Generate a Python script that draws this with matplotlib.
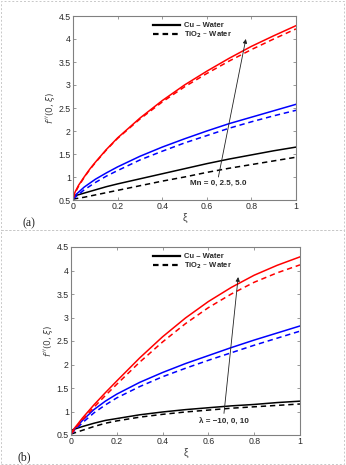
import matplotlib
matplotlib.use("Agg")
import matplotlib.pyplot as plt
from matplotlib.lines import Line2D
from matplotlib.patches import Rectangle

plt.rcParams['font.family'] = ['Liberation Sans', 'DejaVu Sans']
plt.rcParams['mathtext.fontset'] = 'dejavusans'

# ---------------- data ----------------
xi = [0, 0.05, 0.1, 0.15, 0.2, 0.3, 0.4, 0.5, 0.6, 0.7, 0.8, 0.9, 1.0]
xi_fine = [0, 0.01, 0.025, 0.05, 0.075, 0.1, 0.15, 0.2, 0.3, 0.4, 0.5, 0.6, 0.7, 0.8, 0.9, 1.0]

# panel (a): Mn = 0, 2.5, 5.0
a_black_cu  = [0.58, 0.65, 0.72, 0.79, 0.85, 0.96, 1.07, 1.18, 1.29, 1.39, 1.48, 1.57, 1.65]
a_black_ti  = [0.52, 0.56, 0.61, 0.66, 0.71, 0.81, 0.91, 1.00, 1.10, 1.19, 1.27, 1.35, 1.43]
a_blue_cu   = [0.56, 0.78, 0.95, 1.09, 1.22, 1.45, 1.65, 1.83, 2.00, 2.16, 2.30, 2.44, 2.58]
a_blue_ti   = [0.52, 0.72, 0.88, 1.02, 1.14, 1.37, 1.56, 1.74, 1.90, 2.06, 2.20, 2.33, 2.45]
a_red_cu    = [0.55, 0.68, 0.82, 1.00, 1.17, 1.32, 1.60, 1.85, 2.28, 2.66, 3.00, 3.30, 3.58, 3.84, 4.07, 4.29]
a_red_ti    = [0.52, 0.66, 0.80, 0.99, 1.16, 1.31, 1.59, 1.84, 2.26, 2.63, 2.96, 3.25, 3.52, 3.77, 4.00, 4.22]

# panel (b): lambda = -10, 0, 10
b_black_cu  = [0.60, 0.68, 0.75, 0.81, 0.85, 0.93, 0.99, 1.04, 1.08, 1.12, 1.15, 1.19, 1.22]
b_black_ti  = [0.52, 0.60, 0.68, 0.75, 0.80, 0.88, 0.94, 0.99, 1.03, 1.07, 1.10, 1.13, 1.16]
b_blue_cu   = [0.55, 0.81, 1.04, 1.22, 1.37, 1.62, 1.83, 2.02, 2.19, 2.36, 2.52, 2.67, 2.82]
b_blue_ti   = [0.52, 0.76, 0.97, 1.14, 1.29, 1.53, 1.74, 1.92, 2.09, 2.25, 2.41, 2.56, 2.71]
b_red_cu    = [0.55, 0.86, 1.14, 1.40, 1.65, 2.14, 2.59, 2.99, 3.34, 3.64, 3.90, 4.11, 4.29]
b_red_ti    = [0.52, 0.82, 1.09, 1.34, 1.58, 2.05, 2.48, 2.87, 3.21, 3.50, 3.75, 3.95, 4.12]

xticks = [0, 0.2, 0.4, 0.6, 0.8, 1]
xticklabels = ['0', '0.2', '0.4', '0.6', '0.8', '1']
yticks = [0.5, 1, 1.5, 2, 2.5, 3, 3.5, 4, 4.5]
yticklabels = ['0.5', '1', '1.5', '2', '2.5', '3', '3.5', '4', '4.5']
legend_labels = ['Cu – Water', 'TiO$_\\mathbf{2}$ – Water']
ylabel = "$f\\,''(0,\\xi)$"
xlabel = "ξ"
ann_a = "Mn = 0, 2.5, 5.0"
ann_b = "λ = −10, 0, 10"

W, H = 346, 465
fig = plt.figure(figsize=(W / 100, H / 100), dpi=100)

# dashed frames around panels
for (x0, y0, x1, y1) in [(1, 1, 343.5, 230.5), (1, 230.5, 343.5, 463.5)]:
    fig.patches.append(Rectangle((x0 / W, 1 - y1 / H), (x1 - x0) / W, (y1 - y0) / H,
                                 transform=fig.transFigure, fill=False,
                                 edgecolor='#c8c8c8', lw=0.7, ls=(0, (2, 2))))

axA = fig.add_axes([73 / W, 1 - 200 / H, 223 / W, 184 / H])
axB = fig.add_axes([71 / W, 1 - 435 / H, 229 / W, 188 / H])

def style(ax):
    ax.set_xlim(0, 1)
    ax.set_ylim(0.5, 4.5)
    ax.set_xticks(xticks)
    ax.set_xticklabels(xticklabels)
    ax.set_yticks(yticks)
    ax.set_yticklabels(yticklabels)
    ax.tick_params(direction='in', length=2.2, width=0.5, top=True, right=True,
                   labelsize=6.3, colors='#707070', labelcolor='#2a2a2a', pad=1.5)
    for s in ax.spines.values():
        s.set_color('#808080')
        s.set_linewidth(0.8)
    ax.set_xlabel(xlabel, fontsize=7.5, color='#444444', labelpad=1)
    ax.set_ylabel(ylabel, fontsize=6.5, color='#444444', labelpad=1)

lw = 1.1
dash = (3.5, 2.5)
# panel (a)
axA.plot(xi, a_black_cu, color='k', lw=lw)
axA.plot(xi, a_black_ti, color='k', lw=lw, ls='--', dashes=dash)
axA.plot(xi, a_blue_cu, color='#0000ff', lw=lw)
axA.plot(xi, a_blue_ti, color='#0000ff', lw=lw, ls='--', dashes=dash)
axA.plot(xi_fine, a_red_cu, color='#ff0000', lw=lw)
axA.plot(xi_fine, a_red_ti, color='#ff0000', lw=lw, ls='--', dashes=dash)

# panel (b)
axB.plot(xi, b_black_cu, color='k', lw=lw)
axB.plot(xi, b_black_ti, color='k', lw=lw, ls='--', dashes=dash)
axB.plot(xi, b_blue_cu, color='#0000ff', lw=lw)
axB.plot(xi, b_blue_ti, color='#0000ff', lw=lw, ls='--', dashes=dash)
axB.plot(xi, b_red_cu, color='#ff0000', lw=lw)
axB.plot(xi, b_red_ti, color='#ff0000', lw=lw, ls='--', dashes=dash)

for ax in (axA, axB):
    style(ax)
    handles = [Line2D([], [], color='k', lw=1.6),
               Line2D([], [], color='k', lw=1.6, ls='--', dashes=(2.5, 1.8))]
    leg = ax.legend(handles, legend_labels, loc='upper left', bbox_to_anchor=(0.33, 1.0),
                    frameon=False, handlelength=3.6, handletextpad=0.5,
                    labelspacing=0.05, borderaxespad=0.4,
                    prop={'weight': 'bold', 'size': 5.5})
    for t in leg.get_texts():
        t.set_color('#2a2a2a')

axA.annotate('', xy=(0.775, 4.0), xytext=(0.652, 1.0),
             arrowprops=dict(arrowstyle='-|>', lw=0.6, color='#222222', mutation_scale=6,
                             shrinkA=0, shrinkB=0))
axA.text(0.65, 0.86, ann_a, fontsize=5.8, fontweight='bold', color='#2a2a2a',
         ha='center', va='center')

axB.annotate('', xy=(0.73, 3.86), xytext=(0.668, 0.96),
             arrowprops=dict(arrowstyle='-|>', lw=0.6, color='#222222', mutation_scale=6,
                             shrinkA=0, shrinkB=0))
axB.text(0.666, 0.78, ann_b, fontsize=5.8, fontweight='bold', color='#2a2a2a',
         ha='center', va='center')

fig.text(29 / W, 1 - 223 / H, '(a)', family='Liberation Serif', fontsize=8.5,
         ha='center', va='center', color='#222222')
fig.text(24.5 / W, 1 - 457.5 / H, '(b)', family='Liberation Serif', fontsize=8.5,
         ha='center', va='center', color='#222222')

fig.savefig('out.png', dpi=100)
